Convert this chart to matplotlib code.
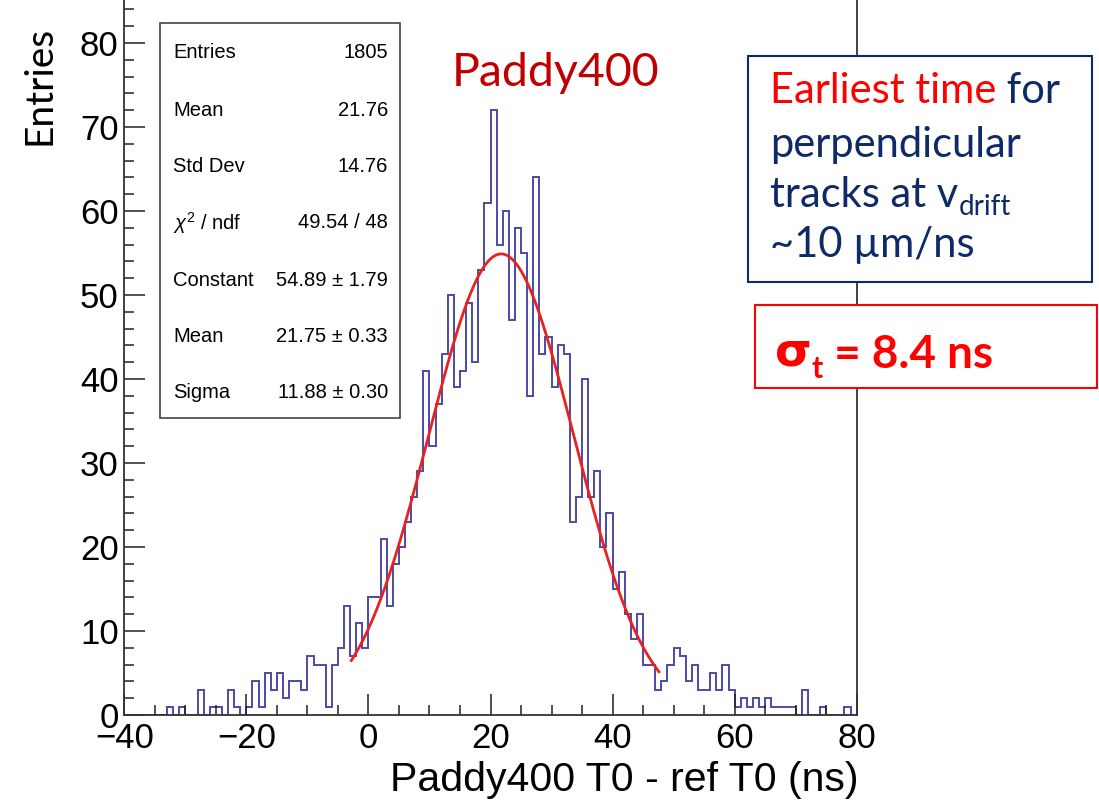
import numpy as np
import matplotlib
matplotlib.use("Agg")
import matplotlib.pyplot as plt
from matplotlib.patches import Rectangle
from matplotlib.text import Annotation
from matplotlib.ticker import MultipleLocator

# histogram: 1 ns bins from -40 to 80
x_lo, x_hi = -40, 80
counts = [0, 0, 0, 0, 0, 0, 0,              # -40 .. -34
          1, 0, 1, 0, 0, 3, 0, 1, 1, 0,     # -33 .. -24
          3, 1, 0, 1, 4, 1, 5, 3, 5, 2,     # -23 .. -14
          4, 4, 3, 7, 6, 6, 1, 6, 8, 13,    # -13 .. -4
          7, 11, 8,                         # -3 .. -1
          14, 14, 21, 13, 18, 20, 23, 26, 29, 41,   # 0 .. 9
          32, 37, 43, 50, 39, 41, 49, 42, 53, 61,   # 10 .. 19
          72, 56, 60, 47, 58, 55, 38, 64, 43, 45,   # 20 .. 29
          39, 44, 43, 23, 26, 40, 26, 29, 20, 24,   # 30 .. 39
          15, 17, 12, 9, 12, 6, 6, 3, 4, 6,         # 40 .. 49
          8, 7, 4, 6, 3, 3, 5, 3, 6, 3,             # 50 .. 59
          1, 2, 1, 2, 1, 2, 1, 1, 1, 1,             # 60 .. 69
          0, 3, 0, 0, 1, 0, 0, 0, 1, 0]             # 70 .. 79

# gaussian fit results
fit_const = 54.89
fit_mean = 21.75
fit_sigma = 11.88
fit_range = (-2.8, 47.6)

stat_labels = ['Entries', 'Mean', 'Std Dev', r'$\chi^{2}$ / ndf',
               'Constant', 'Mean', 'Sigma']
stat_values = ['1805', '21.76', '14.76', '49.54 / 48',
               '54.89 \u00b1 1.79', '21.75 \u00b1 0.33', '11.88 \u00b1 0.30']

W, H = 1099, 801
def fx(px):
    return px / W
def fy(py):
    return 1 - py / H

plt.rcParams['mathtext.fontset'] = 'custom'
plt.rcParams['mathtext.rm'] = 'Liberation Sans'
plt.rcParams['mathtext.it'] = 'Liberation Sans:italic'

fig = plt.figure(figsize=(W / 100, H / 100), dpi=100)
ax = fig.add_axes([fx(124.3), fy(715), fx(856.7) - fx(124.3), 715 / H])

edges = np.arange(x_lo, x_hi + 1, 1)
ax.stairs(counts, edges, color='#4b4ba8', lw=1.4)

xf = np.linspace(fit_range[0], fit_range[1], 400)
ax.plot(xf, fit_const * np.exp(-0.5 * ((xf - fit_mean) / fit_sigma) ** 2),
        color='#e8211f', lw=2)

ax.set_xlim(x_lo, x_hi)
ax.set_ylim(0, 715 / 8.4)
ax.xaxis.set_major_locator(MultipleLocator(20))
ax.xaxis.set_minor_locator(MultipleLocator(5))
ax.yaxis.set_major_locator(MultipleLocator(10))
ax.yaxis.set_minor_locator(MultipleLocator(2))
ax.tick_params(which='both', direction='in', width=1.1, color='#222222')
ax.tick_params(which='major', length=15, labelsize=25, pad=5)
ax.tick_params(which='minor', length=7.5)
ax.tick_params(axis='y', pad=4)
for lab in ax.get_xticklabels() + ax.get_yticklabels():
    lab.set_family('Liberation Sans')
ax.spines['top'].set_visible(False)
for s in ['left', 'bottom', 'right']:
    ax.spines[s].set_linewidth(1.3)
    ax.spines[s].set_color('#333333')

# axis titles
fig.text(fx(858), fy(791), 'Paddy400 T0 - ref T0 (ns)', ha='right', va='baseline',
         fontsize=29.5, family='Liberation Sans')
fig.text(fx(57), fy(26), 'Entries', rotation=90, ha='right', va='top',
         fontsize=28, family=['Lato', 'DejaVu Sans'])
fig.text(fx(452), fy(86), 'Paddy400', ha='left', va='baseline',
         fontsize=33.5, color='#c00000', family=['Lato', 'DejaVu Sans'])

# stats box
fig.patches.append(Rectangle((fx(160), fy(418)), fx(400) - fx(160), fy(23) - fy(418),
                             transform=fig.transFigure, facecolor='white',
                             edgecolor='#444444', lw=1.2, zorder=5))
row_y = [53, 110, 166, 223, 280, 337, 393]
for lab, val, py in zip(stat_labels, stat_values, row_y):
    fig.text(fx(173), fy(py), lab, ha='left', va='center', fontsize=14.5,
             family='Liberation Sans', zorder=6)
    fig.text(fx(388), fy(py), val, ha='right', va='center', fontsize=14.5,
             family='Liberation Sans', zorder=6)


def after(prev, text, dx=0, dy=0, **kw):
    a = Annotation(text, xy=(1, 0), xycoords=prev, xytext=(dx, dy),
                   textcoords='offset points', ha='left', va='bottom',
                   annotation_clip=False, zorder=6, **kw)
    fig.add_artist(a)
    return a


# blue note box
navy = '#0f2a68'
note_size = 30
font_note = ['Lato', 'DejaVu Sans']
fig.patches.append(Rectangle((fx(748), fy(282)), fx(1092) - fx(748), fy(56) - fy(282),
                             transform=fig.transFigure, facecolor='white',
                             edgecolor=navy, lw=1.5, zorder=5))
t1 = fig.text(fx(770), fy(103), 'Earliest time', color='#ff0000', fontsize=note_size,
              family=font_note, va='baseline', zorder=6)
after(t1, ' for', color=navy, fontsize=note_size, family=font_note)
fig.text(fx(770), fy(157), 'perpendicular', color=navy, fontsize=note_size,
         family=font_note, va='baseline', zorder=6)
t3 = fig.text(fx(770), fy(207), 'tracks at v', color=navy, fontsize=note_size,
              family=font_note, va='baseline', zorder=6)
after(t3, 'drift', dx=0.5, dy=-4, color=navy, fontsize=20, family=font_note)
fig.text(fx(770), fy(257), '~10 \u00b5m/ns', color=navy, fontsize=note_size,
         family=font_note, va='baseline', zorder=6)

# red sigma box
fig.patches.append(Rectangle((fx(755), fy(388)), fx(1097) - fx(755), fy(305) - fy(388),
                             transform=fig.transFigure, facecolor='white',
                             edgecolor='#ff0000', lw=1.5, zorder=5))
ts = fig.text(fx(775), fy(366), '\u03c3', color='#ff0000', fontsize=34,
              fontweight='bold', family=['DejaVu Sans'], va='baseline', zorder=6)
tsub = after(ts, 't', dx=0, dy=-5, color='#ff0000', fontsize=22, fontweight='bold',
             family=['Lato', 'DejaVu Sans'])
after(tsub, ' = 8.4 ns', dx=0, dy=5, color='#ff0000', fontsize=33, fontweight='bold',
      family=['Lato', 'DejaVu Sans'])

plt.savefig('out.png', dpi=100)
